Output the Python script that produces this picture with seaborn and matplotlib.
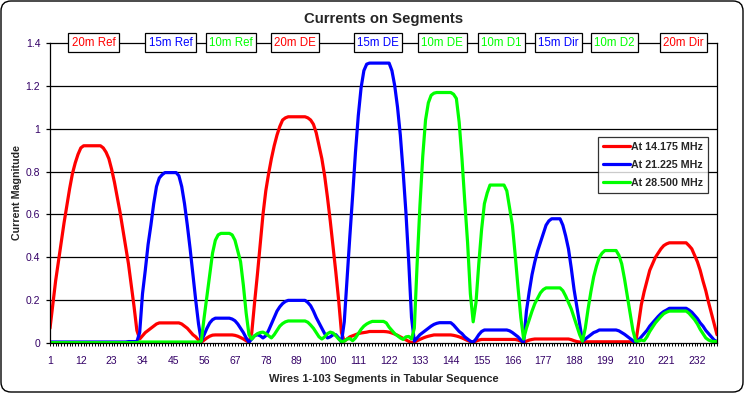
import numpy as np
import pandas as pd
import matplotlib.pyplot as plt
import seaborn as sns
from matplotlib.patches import FancyBboxPatch

# Antenna elements along the x axis (segments per element, in tabular order)
element_names = ['20m Ref', '15m Ref', '10m Ref', '20m DE', '15m DE',
                 '10m DE', '10m D1', '15m Dir', '10m D2', '20m Dir']
element_colors = ['#ff0000', '#0000ff', '#00ff00', '#ff0000', '#0000ff',
                  '#00ff00', '#00ff00', '#0000ff', '#00ff00', '#ff0000']
element_segments = [32, 22, 18, 33, 25, 22, 18, 21, 19, 29]

series_names = ['At 14.175 MHz', 'At 21.225 MHz', 'At 28.500 MHz']
series_colors = ['#ff0000', '#0000ff', '#00ff00']

# current magnitude per segment (one line per element)
current_14 = (
    [0.07, 0.18, 0.29, 0.38, 0.47, 0.56, 0.64, 0.72, 0.79, 0.84, 0.88, 0.91] + [0.92] * 7
    + [0.91, 0.89, 0.86, 0.81, 0.75, 0.68, 0.61, 0.53, 0.45, 0.37, 0.27, 0.17, 0.06]
    + [0.02, 0.035, 0.05, 0.06, 0.07, 0.08, 0.09] + [0.095] * 8 + [0.09, 0.08, 0.07, 0.055, 0.04, 0.03, 0.015]
    + [0.005, 0.015, 0.025, 0.033, 0.038] + [0.039] * 7 + [0.037, 0.033, 0.027, 0.02, 0.012, 0.004]
    + [0.05, 0.19, 0.32, 0.46, 0.60, 0.71, 0.79, 0.86, 0.92, 0.97, 1.01, 1.04, 1.05] + [1.055] * 7
    + [1.05, 1.04, 1.02, 0.98, 0.92, 0.86, 0.78, 0.68, 0.57, 0.45, 0.33, 0.20, 0.05]
    + [0.01, 0.02, 0.03, 0.035, 0.04, 0.045, 0.048, 0.05, 0.052] + [0.055] * 6
    + [0.054, 0.052, 0.048, 0.043, 0.037, 0.03, 0.023, 0.016, 0.009, 0.003]
    + [0.005, 0.012, 0.018, 0.024, 0.029, 0.033, 0.036] + [0.039] * 7 + [0.037, 0.034, 0.03, 0.025, 0.019, 0.013, 0.008, 0.006]
    + [0.01, 0.015] + [0.018] * 13 + [0.015, 0.01, 0.006]
    + [0.01, 0.015, 0.018] + [0.02] * 13 + [0.017, 0.012, 0.008, 0.006, 0.005]
    + [0.007] * 18 + [0.004]
    + [0.09, 0.18, 0.24, 0.29, 0.34, 0.37, 0.40, 0.42, 0.44, 0.455, 0.463] + [0.468] * 7
    + [0.455, 0.44, 0.41, 0.38, 0.34, 0.29, 0.245, 0.19, 0.14, 0.09, 0.04]
)

current_21 = (
    [0.006] * 28 + [0.008] * 4
    + [0.05, 0.23, 0.34, 0.46, 0.55, 0.65, 0.73, 0.77, 0.785] + [0.795] * 5 + [0.78, 0.73, 0.65, 0.55, 0.44, 0.32, 0.20, 0.09]
    + [0.01, 0.04, 0.07, 0.095, 0.11] + [0.117] * 6 + [0.113, 0.105, 0.09, 0.07, 0.05, 0.025, 0.005]
    + [0.02, 0.035, 0.04, 0.035, 0.025, 0.035, 0.06, 0.09, 0.12, 0.15, 0.17, 0.185, 0.195] + [0.2] * 7
    + [0.19, 0.175, 0.15, 0.12, 0.095, 0.07, 0.045, 0.025, 0.03, 0.04, 0.04, 0.025, 0.005]
    + [0.10, 0.30, 0.50, 0.69, 0.89, 1.06, 1.19, 1.27, 1.30] + [1.305] * 8 + [1.27, 1.20, 1.10, 0.97, 0.80, 0.61, 0.38, 0.12]
    + [0.01, 0.025, 0.04, 0.05, 0.06, 0.07, 0.08, 0.088, 0.093] + [0.096] * 5 + [0.085, 0.07, 0.055, 0.045, 0.03, 0.02, 0.01, 0.005]
    + [0.02, 0.04, 0.055] + [0.062] * 9 + [0.058, 0.05, 0.04, 0.03, 0.015, 0.003]
    + [0.15, 0.24, 0.32, 0.38, 0.43, 0.47, 0.51, 0.55, 0.57] + [0.58] * 4 + [0.55, 0.50, 0.44, 0.35, 0.25, 0.17, 0.09, 0.01]
    + [0.02, 0.03, 0.04, 0.05, 0.055] + [0.062] * 7 + [0.058, 0.05, 0.042, 0.032, 0.022, 0.012, 0.003]
    + [0.015, 0.03, 0.045, 0.06, 0.08, 0.095, 0.11, 0.125, 0.138, 0.148, 0.155] + [0.163] * 7
    + [0.155, 0.145, 0.13, 0.115, 0.095, 0.08, 0.06, 0.045, 0.03, 0.015, 0.008]
)

current_28 = (
    [0.003] * 32
    + [0.006] * 22
    + [0.01, 0.12, 0.22, 0.32, 0.42, 0.48, 0.505] + [0.512] * 4 + [0.505, 0.48, 0.43, 0.38, 0.27, 0.14, 0.04]
    + [0.02, 0.035, 0.045, 0.05, 0.052, 0.045, 0.035, 0.025, 0.04, 0.06, 0.08, 0.092, 0.1] + [0.104] * 7
    + [0.098, 0.085, 0.07, 0.05, 0.03, 0.02, 0.03, 0.045, 0.052, 0.048, 0.035, 0.02, 0.008]
    + [0.01, 0.02, 0.022, 0.012, 0.025, 0.045, 0.065, 0.08, 0.09, 0.097] + [0.102] * 5
    + [0.095, 0.075, 0.06, 0.045, 0.035, 0.025, 0.018, 0.03, 0.032, 0.02]
    + [0.07, 0.37, 0.64, 0.87, 1.04, 1.12, 1.155, 1.165] + [1.168] * 6 + [1.16, 1.14, 1.03, 0.86, 0.66, 0.47, 0.23, 0.10]
    + [0.19, 0.37, 0.53, 0.65, 0.70] + [0.737] * 6 + [0.71, 0.63, 0.55, 0.41, 0.26, 0.12, 0.02]
    + [0.07, 0.11, 0.15, 0.185, 0.21, 0.235, 0.25] + [0.258] * 6 + [0.245, 0.22, 0.19, 0.16, 0.12, 0.08, 0.04, 0.01]
    + [0.07, 0.16, 0.24, 0.31, 0.36, 0.40, 0.42] + [0.432] * 5 + [0.41, 0.37, 0.30, 0.22, 0.14, 0.06, 0.01]
    + [0.01, 0.015, 0.012, 0.03, 0.055, 0.075, 0.095, 0.11, 0.125, 0.138, 0.145] + [0.15] * 7
    + [0.14, 0.125, 0.11, 0.09, 0.065, 0.045, 0.025, 0.015, 0.01, 0.008, 0.008]
)

n_seg = sum(element_segments)
segments = np.arange(1, n_seg + 1)

df = pd.concat([
    pd.DataFrame({'segment': segments, 'current': vals, 'series': name})
    for name, vals in zip(series_names, [current_14, current_21, current_28])
])

sns.set_theme(style='white')
plt.rcParams['font.family'] = ['Liberation Sans', 'DejaVu Sans']

fig = plt.figure(figsize=(7.45, 3.95), dpi=100)
ax = fig.add_axes([50 / 745, 1 - 343.3 / 395, 667 / 745, 300.6 / 395])

sns.lineplot(data=df, x='segment', y='current', hue='series', hue_order=series_names,
             palette=series_colors, linewidth=2.3, ax=ax,
             solid_joinstyle='round', solid_capstyle='round')

ax.set_xlim(1, n_seg)
ax.set_ylim(0, 1.4)

# gridlines and frame
for v in np.arange(0.2, 1.3, 0.2):
    ax.axhline(v, color='black', lw=0.9, zorder=0)
for s in ax.spines.values():
    s.set_color('black')
    s.set_linewidth(0.9)

tick_col = '#330066'
ax.set_xticks(np.arange(1, n_seg + 1, 11))
ax.set_xticks(segments, minor=True)
ax.set_yticks(np.arange(0, 1.41, 0.2))
ax.set_yticklabels(['0', '0.2', '0.4', '0.6', '0.8', '1', '1.2', '1.4'])
ax.tick_params(axis='x', which='both', direction='out', length=2.5, width=0.7,
               color='black', bottom=True, pad=7, labelsize=7.5, labelcolor=tick_col)
ax.tick_params(axis='y', direction='out', length=3, width=0.9, color='black',
               left=True, pad=4, labelsize=7.5, labelcolor=tick_col)
ax.set_xlabel('')
ax.set_ylabel('')

# element name boxes along the top edge
label_x = [16.5, 44, 65.5, 88.5, 118, 141, 162, 182.5, 202.5, 227]
for name, col, xx in zip(element_names, element_colors, label_x):
    ax.text(xx, 1.4, name, ha='center', va='center', color=col, fontsize=8.3,
            clip_on=False, zorder=6,
            bbox=dict(boxstyle='square,pad=0.28', fc='white', ec='black', lw=0.9))

handles, labels = ax.get_legend_handles_labels()
leg = ax.legend(handles, labels, loc='upper right', bbox_to_anchor=(0.9865, 0.686),
                borderaxespad=0, frameon=True, fancybox=False, edgecolor='black',
                prop={'weight': 'bold', 'size': 7.7}, handlelength=2.5,
                handletextpad=0.15, labelspacing=0.75, borderpad=0.45)
leg.get_frame().set_linewidth(0.9)
for h in leg.get_lines():
    h.set_linewidth(2.3)

fig.text(383.5 / 745, 1 - 19.5 / 395, 'Currents on Segments', ha='center', va='center',
         fontsize=10.7, fontweight='bold')
fig.text(17 / 745, 1 - 193 / 395, 'Current Magnitude', ha='center', va='center',
         rotation=90, fontsize=7.7, fontweight='bold')
fig.text(383.5 / 745, 1 - 379 / 395, 'Wires 1-103 Segments in Tabular Sequence',
         ha='center', va='center', fontsize=8, fontweight='bold')

# rounded chart-area border
border = FancyBboxPatch((0.01, 0.03), 7.42, 3.91, boxstyle='round,pad=0,rounding_size=0.1',
                        transform=fig.dpi_scale_trans, fill=False, ec='black', lw=1.0)
fig.patches.append(border)

fig.savefig('out.png', dpi=100)
